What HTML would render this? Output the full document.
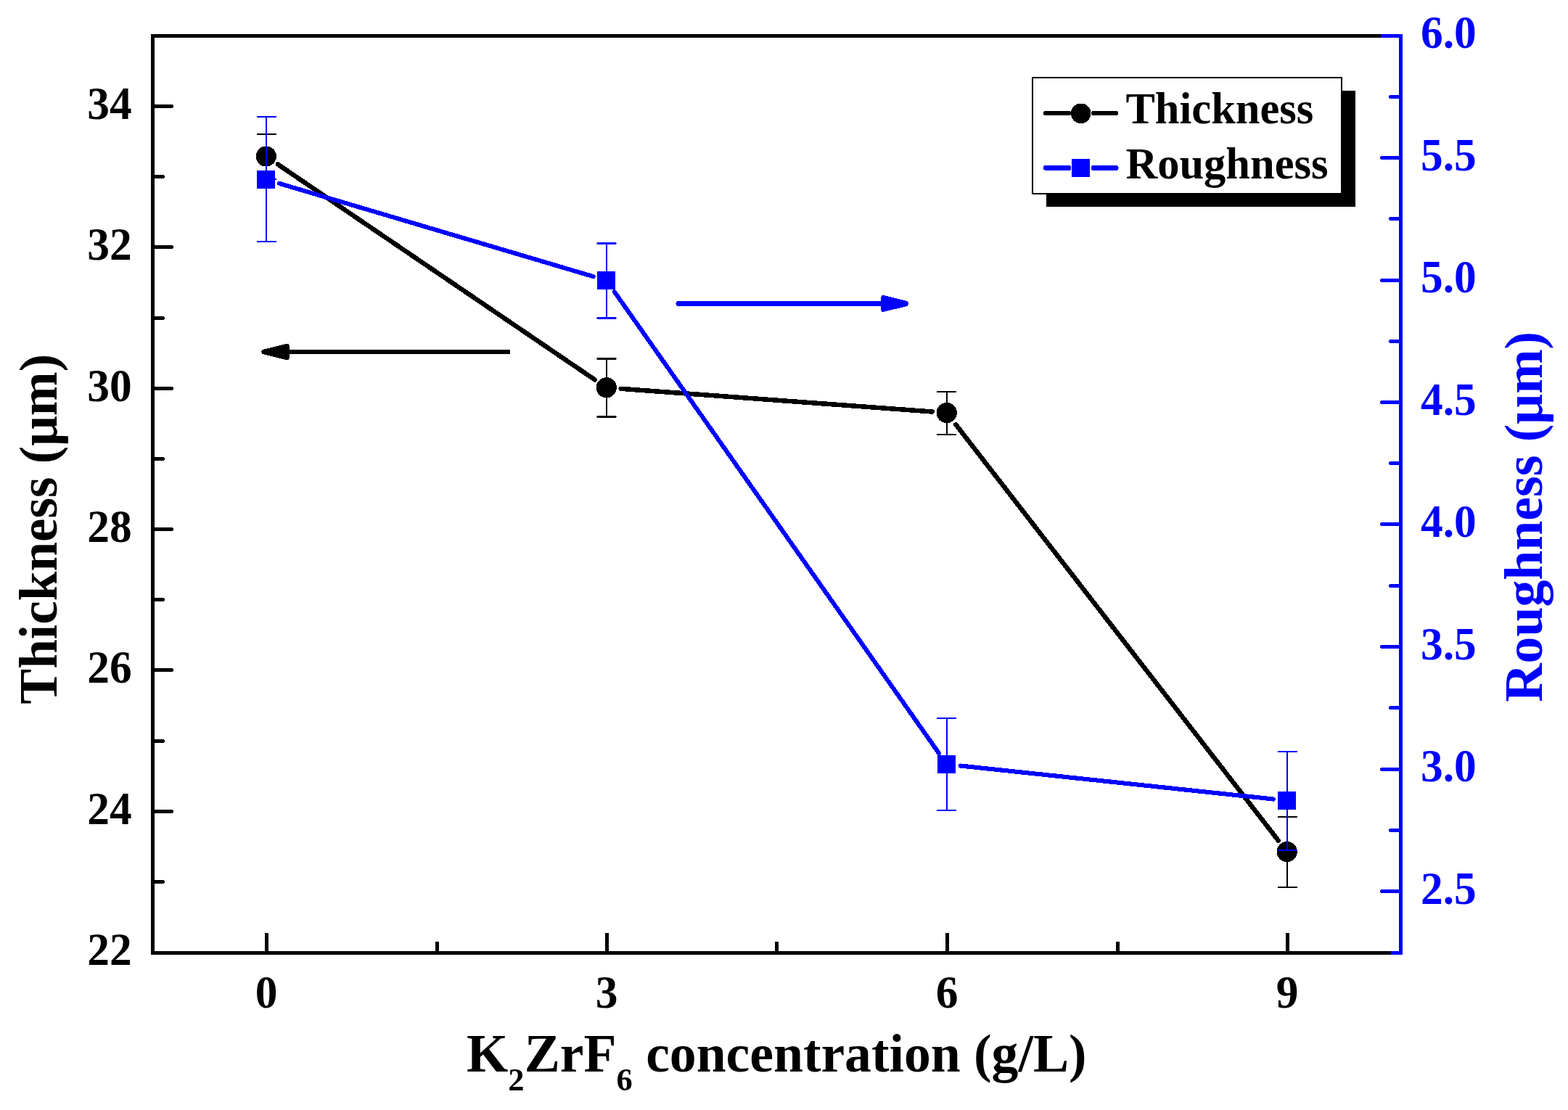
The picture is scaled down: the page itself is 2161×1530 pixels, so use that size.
<!DOCTYPE html>
<html lang="en"><head><meta charset="utf-8"><title>Thickness and Roughness vs K2ZrF6 concentration</title>
<style>
html,body{margin:0;padding:0;background:#fff;}
body{width:2161px;height:1530px;overflow:hidden;}
svg{display:block;}
text{font-family:"Liberation Serif","Times New Roman",serif;font-weight:bold;}
.tk{font-size:63px;}
.ttl{font-size:73.5px;}
.lg{font-size:60.5px;}
</style></head><body>
<svg width="2161" height="1530" viewBox="0 0 2161 1530">
<rect width="2161" height="1530" fill="#fff"/>

<g stroke="#000" stroke-width="5" stroke-linecap="butt" fill="none" shape-rendering="crispEdges">
<path d="M208.0 49.5 H1903.5"/>
<path d="M208.0 1313.5 H1917.5"/>
<path d="M210.5 49.5 V1316.0"/>
</g>
<g stroke="#000" stroke-width="5" stroke-linecap="round" fill="none" shape-rendering="crispEdges">
<path d="M210.5 1215.5 h14.1"/>
<path d="M210.5 1118.5 h26.1"/>
<path d="M210.5 1021.5 h14.1"/>
<path d="M210.5 923.5 h26.1"/>
<path d="M210.5 826.5 h14.1"/>
<path d="M210.5 729.5 h26.1"/>
<path d="M210.5 632.5 h14.1"/>
<path d="M210.5 535.5 h26.1"/>
<path d="M210.5 438.5 h14.1"/>
<path d="M210.5 340.5 h26.1"/>
<path d="M210.5 243.5 h14.1"/>
<path d="M210.5 146.5 h26.1"/>
<path d="M367.5 1313.5 v-25.5"/>
<path d="M602.5 1313.5 v-13.5"/>
<path d="M836.5 1313.5 v-25.5"/>
<path d="M1070.5 1313.5 v-13.5"/>
<path d="M1305.5 1313.5 v-25.5"/>
<path d="M1540.5 1313.5 v-13.5"/>
<path d="M1774.5 1313.5 v-25.5"/>
</g>
<g stroke="#0000ff" stroke-width="5" fill="none" shape-rendering="crispEdges">
<path d="M1930.5 47.0 V1316.0"/>
<path d="M1930.5 49.5 h-28"/>
<path d="M1930.5 1313.5 h-14"/>
</g>
<g stroke="#0000ff" stroke-width="5" stroke-linecap="round" fill="none" shape-rendering="crispEdges">
<path d="M1930.5 1228.5 h-26.1"/>
<path d="M1930.5 1144.5 h-14.1"/>
<path d="M1930.5 1060.5 h-26.1"/>
<path d="M1930.5 975.5 h-14.1"/>
<path d="M1930.5 891.5 h-26.1"/>
<path d="M1930.5 807.5 h-14.1"/>
<path d="M1930.5 722.5 h-26.1"/>
<path d="M1930.5 638.5 h-14.1"/>
<path d="M1930.5 554.5 h-26.1"/>
<path d="M1930.5 470.5 h-14.1"/>
<path d="M1930.5 386.5 h-26.1"/>
<path d="M1930.5 301.5 h-14.1"/>
<path d="M1930.5 217.5 h-26.1"/>
<path d="M1930.5 133.5 h-14.1"/>
</g>
<g class="tk" fill="#000" text-anchor="end">
<text transform="translate(181.6 1330.2) scale(0.975 1)">22</text>
<text transform="translate(181.6 1135.8) scale(0.975 1)">24</text>
<text transform="translate(181.6 941.4) scale(0.975 1)">26</text>
<text transform="translate(181.6 747.1) scale(0.975 1)">28</text>
<text transform="translate(181.6 552.7) scale(0.975 1)">30</text>
<text transform="translate(181.6 358.4) scale(0.975 1)">32</text>
<text transform="translate(181.6 164.0) scale(0.975 1)">34</text>
</g>
<g class="tk" fill="#000" text-anchor="middle">
<text transform="translate(367.0 1388.8) scale(0.975 1)">0</text>
<text transform="translate(836.0 1388.8) scale(0.975 1)">3</text>
<text transform="translate(1305.0 1388.8) scale(0.975 1)">6</text>
<text transform="translate(1774.0 1388.8) scale(0.975 1)">9</text>
</g>
<g class="tk" fill="#0000ff" text-anchor="start">
<text transform="translate(1958.0 1245.7) scale(0.975 1)">2.5</text>
<text transform="translate(1958.0 1077.2) scale(0.975 1)">3.0</text>
<text transform="translate(1958.0 908.7) scale(0.975 1)">3.5</text>
<text transform="translate(1958.0 740.2) scale(0.975 1)">4.0</text>
<text transform="translate(1958.0 571.7) scale(0.975 1)">4.5</text>
<text transform="translate(1958.0 403.2) scale(0.975 1)">5.0</text>
<text transform="translate(1958.0 234.7) scale(0.975 1)">5.5</text>
<text transform="translate(1958.0 66.2) scale(0.975 1)">6.0</text>
</g>
<text class="ttl" transform="translate(1070.3 1476.8) scale(1.002 1)" text-anchor="middle" fill="#000">K<tspan font-size="44.5" dy="26.2">2</tspan><tspan dy="-26.2">ZrF</tspan><tspan font-size="44.5" dy="26.2">6</tspan><tspan dy="-26.2"> concentration (g/L)</tspan></text>
<text class="ttl" transform="translate(78.3 729.3) rotate(-90) scale(0.996 1)" text-anchor="middle" fill="#000">Thickness (μm)</text>
<text class="ttl" transform="translate(2125.2 712.3) rotate(-90) scale(1.003 1)" text-anchor="middle" fill="#0000ff">Roughness (μm)</text>
<g stroke="#000" stroke-width="6.5" stroke-linecap="round" fill="none" shape-rendering="crispEdges">
<path d="M382.9 226.5 L819.6 523.3"/>
<path d="M855.7 535.8 L1284.8 567.5"/>
<path d="M1317.3 585.2 L1761.8 1158.6"/>
</g>
<g stroke="#000" stroke-width="2" fill="none" shape-rendering="crispEdges">
<path d="M367 185 V247 M354 185 h27 M354 247 h27"/>
<path d="M836 494.5 V574.5"/>
<path stroke-width="3" d="M822.5 494.5 h26 M822.5 574.5 h26"/>
<path stroke-width="1" d="M821.5 494.5 h28 M821.5 574.5 h28"/>
<path d="M1305 540 V599 M1291 540 h27 M1291 599 h27"/>
<path d="M1774 1126 V1223 M1761 1126 h27 M1761 1223 h27"/>
</g>
<circle cx="366.75" cy="215.5" r="14.1" fill="#000" shape-rendering="crispEdges"/>
<circle cx="835.75" cy="534.3" r="14.1" fill="#000" shape-rendering="crispEdges"/>
<circle cx="1304.75" cy="569.0" r="14.1" fill="#000" shape-rendering="crispEdges"/>
<circle cx="1773.75" cy="1174.0" r="14.1" fill="#000" shape-rendering="crispEdges"/>
<g stroke="#0000ff" stroke-width="6.1" stroke-linecap="round" fill="none" shape-rendering="crispEdges">
<path d="M385.0 252.9 L817.5 381.1"/>
<path d="M846.7 402.0 L1293.8 1038.0"/>
<path d="M1323.6 1055.5 L1754.9 1101.5"/>
</g>
<g stroke="#0000ff" stroke-width="2" fill="none" shape-rendering="crispEdges">
<path d="M367 161 V333 M354 161 h27 M354 333 h27"/>
<path d="M836 335.5 V438.5"/>
<path stroke-width="3" d="M822.5 335.5 h26 M822.5 438.5 h26"/>
<path stroke-width="1" d="M821.5 335.5 h28 M821.5 438.5 h28"/>
<path d="M1305 990 V1117 M1291 990 h27 M1291 1117 h27"/>
<path d="M1774 1036 V1172 M1761 1036 h27 M1761 1172 h27"/>
</g>
<rect x="354" y="235" width="25" height="25" fill="#0000ff" shape-rendering="crispEdges"/>
<rect x="823" y="374" width="25" height="25" fill="#0000ff" shape-rendering="crispEdges"/>
<rect x="1292" y="1041" width="25" height="25" fill="#0000ff" shape-rendering="crispEdges"/>
<rect x="1761" y="1091" width="25" height="25" fill="#0000ff" shape-rendering="crispEdges"/>
<path d="M396 485 H702.5" stroke="#000" stroke-width="6" stroke-linecap="butt" fill="none" shape-rendering="crispEdges"/>
<path d="M399 477 L397.5 474 L394 474 L361.2 482.2 L359.9 485 L361.2 487.8 L394 496 L397.5 496 L399 493 Z" fill="#000" shape-rendering="crispEdges"/>
<path d="M935 418.5 H1217" stroke="#0000ff" stroke-width="7" stroke-linecap="round" fill="none" shape-rendering="crispEdges"/>
<path d="M1214 410.5 L1215.5 407.3 L1219 407.3 L1250.5 415.2 L1252.3 418.5 L1250.5 421.8 L1219 429.6 L1215.5 429.6 L1214 426.5 Z" fill="#0000ff" shape-rendering="crispEdges"/>
<rect x="1442" y="125" width="426" height="160" fill="#000" shape-rendering="crispEdges"/>
<rect x="1423" y="107" width="426" height="160" fill="#fff" stroke="#000" stroke-width="2" shape-rendering="crispEdges"/>
<path d="M1441 156 H1473 M1507 156 H1538.5" stroke="#000" stroke-width="6" stroke-linecap="round" shape-rendering="crispEdges"/>
<circle cx="1489.7" cy="156.3" r="13.8" fill="#000" shape-rendering="crispEdges"/>
<path d="M1441.3 231.5 H1473 M1507 231.5 H1538.2" stroke="#0000ff" stroke-width="6.8" stroke-linecap="round" shape-rendering="crispEdges"/>
<rect x="1477" y="219" width="25" height="25" fill="#0000ff" shape-rendering="crispEdges"/>
<text class="lg" transform="translate(1551.5 170)">Thickness</text>
<text class="lg" transform="translate(1551.5 245.7)">Roughness</text>
</svg></body></html>
